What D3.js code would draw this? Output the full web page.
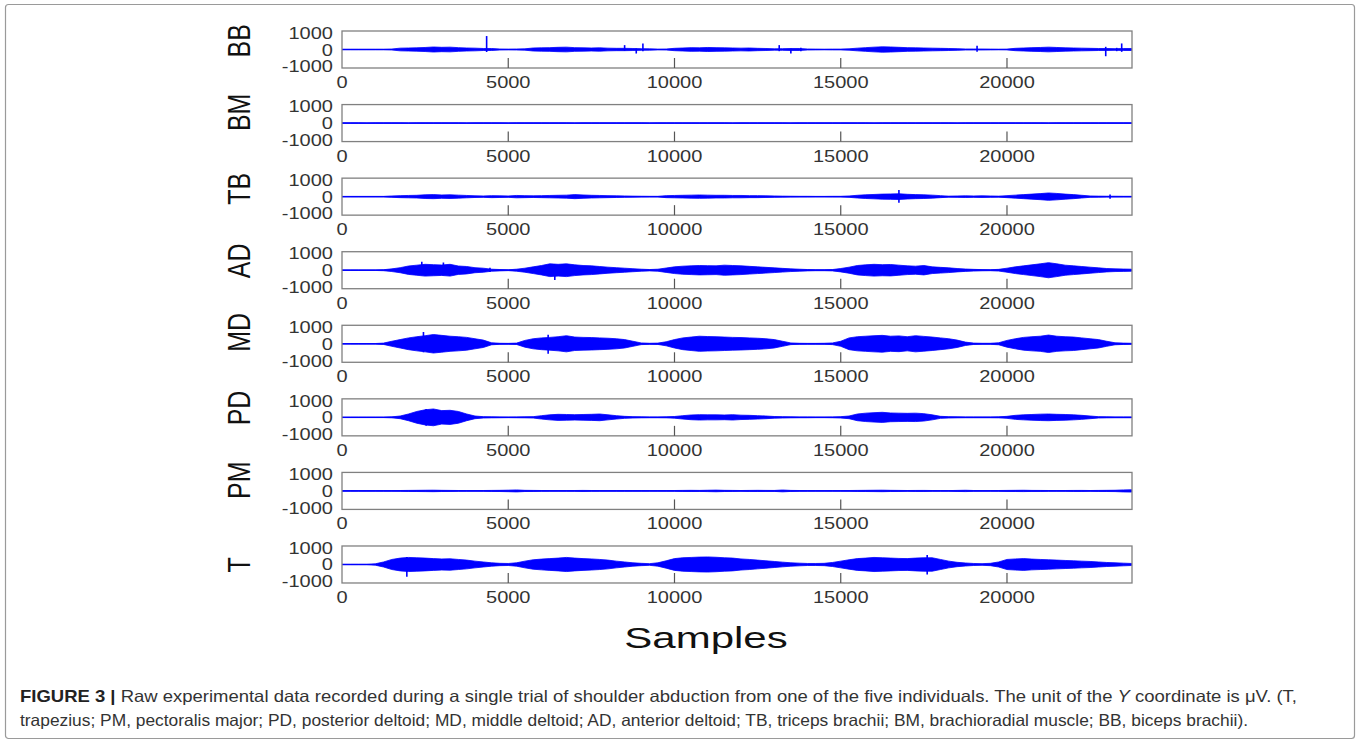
<!DOCTYPE html>
<html>
<head>
<meta charset="utf-8">
<script src="https://cdn.jsdelivr.net/npm/d3@7"></script>
<style>
  body { margin: 0; background: #fff; }
  text { font-family: "Liberation Sans", Arial, Helvetica, sans-serif; }
  text.caption { font-family: "Liberation Sans Narrow", "Liberation Sans", Arial, sans-serif; }
</style>
</head>
<body>
<div id="chart"></div>
<script>
// muscle channels, top to bottom
var channels = ["BB", "BM", "TB", "AD", "MD", "PD", "PM", "T"];
var binSize = 250;          // samples per envelope bin
var sampleMax = 23760;
var xTicks = [0, 5000, 10000, 15000, 20000];
var yTicks = [1000, 0, -1000];

// envelope (uV), one value per 250 samples
var bb = [20,20,20,20,20,20,30,80, 90,100,120,150,130,140,110,90, 80,60,60,30,25,30,40,90,
  100,110,130,140,110,100,90,100, 80,70,70,60,50,40,25,30, 70,90,110,100,120,110,100,90,
  80,90,70,60,40,50,60,60, 30,25,20,25,25,40,80,110, 140,160,150,130,110,100,90,80,
  70,60,50,30,30,30,25,20, 25,70,90,110,120,140,120,100, 90,80,70,60,60,50,60,60];
var bm = [12,14,12,10,13,12,14,12, 11,13,15,12,14,12,13,11, 12,14,13,12,11,13,12,14,
  13,12,14,12,11,13,12,14, 12,13,12,14,12,11,13,12, 14,12,13,12,14,13,12,11,
  13,12,14,12,13,12,11,13, 12,14,12,13,12,14,12,13, 11,12,14,12,13,12,14,12,
  13,12,11,13,14,12,13,12, 12,14,12,13,12,11,13,12, 14,12,13,12,14,12,13,12];
var tb = [15,15,15,15,15,15,40,60, 70,80,110,120,100,110,90,70, 50,40,60,50,40,70,60,50,
  60,70,80,90,120,100,80,70, 60,50,40,30,25,20,20,60, 70,80,90,100,90,80,80,70,
  70,60,60,50,40,30,25,20, 20,15,15,20,20,40,80,110, 130,150,160,170,140,120,110,90,
  60,30,40,50,40,50,40,30, 60,90,120,150,180,220,190,150, 120,80,40,30,25,25,20,20];
var ad = [15,15,15,15,15,30,80,150, 250,300,350,330,310,350,250,220, 150,120,60,40,25,60,120,200,
  280,380,350,380,320,280,260,220, 180,150,120,90,60,40,60,130, 200,240,260,280,270,260,300,280,
  260,230,200,170,140,110,80,60, 40,30,30,40,100,180,280,320, 350,330,340,300,260,240,280,200,
  170,140,100,70,50,35,30,50, 120,200,260,320,380,450,380,300, 260,220,180,140,100,80,70,60];
var md = [15,15,15,15,15,40,150,250, 350,420,480,550,500,450,420,380, 300,220,60,30,25,40,200,300,
  350,380,420,480,400,380,370,350, 330,300,250,150,50,30,40,120, 250,350,400,450,430,420,400,380,
  370,350,330,300,250,150,50,30, 25,25,30,50,150,350,420,450, 480,500,450,470,420,480,440,400,
  350,300,220,100,40,30,30,60, 200,300,380,420,450,520,450,420, 400,350,300,250,150,60,40,30];
var pd = [15,15,15,15,15,15,30,80, 200,350,450,500,400,420,350,200, 80,40,30,25,20,25,30,40,
  100,150,180,170,160,170,180,200, 150,100,60,40,30,25,25,30, 50,100,140,160,150,150,140,160,
  130,120,100,80,50,40,30,25, 25,20,20,25,40,80,200,250, 280,300,260,250,240,250,220,150,
  60,40,30,25,25,25,25,30, 60,120,150,170,190,200,180,170, 150,120,80,40,30,25,25,25];
var pm = [18,20,18,20,18,22,20,25, 30,35,40,45,35,30,25,22, 20,25,30,35,45,60,35,30,
  25,22,20,22,25,30,25,22, 20,22,25,22,20,18,20,22, 25,30,35,30,40,50,35,30,
  25,30,35,30,28,55,30,25, 22,20,18,20,22,25,30,35, 40,45,35,30,25,28,30,25,
  22,20,30,40,25,22,20,25, 30,35,40,30,28,25,22,25, 28,30,25,30,35,40,60,70];
var tr = [20,20,20,20,40,150,300,380, 420,400,380,350,330,340,300,260, 200,150,100,70,60,100,200,280,
  320,350,380,420,380,350,330,300, 260,200,150,100,70,50,100,220, 350,400,420,440,450,430,400,380,
  330,300,260,220,180,140,100,80, 60,60,70,120,200,280,350,380, 420,400,380,360,350,380,400,400,
  300,200,130,90,60,50,70,150, 300,330,350,320,300,280,260,240, 220,200,180,150,120,100,80,60];

// short transients: [sample, up (uV), down (uV)]
var bbSpikes = [[4350,800,150],[8500,260,80],[8850,60,240],[9050,360,100],[13150,260,100],
  [13500,60,240],[13800,100,100],[19100,220,140],[22970,160,400],[23300,100,100],[23450,360,140]];
var tbSpikes = [[16750,400,360],[23100,120,120]];
var adSpikes = [[2400,500,300],[3050,460,300],[4450,150,100],[6400,300,580]];
var mdSpikes = [[2450,700,500],[6200,530,600]];
var pdSpikes = [[2530,500,500]];
var trSpikes = [[1950,450,730],[17600,560,600]];

var captionBold = "FIGURE 3 |";
var captionLine1 = " Raw experimental data recorded during a single trial of shoulder abduction from one of the five individuals. The unit of the ";
var captionLine1b = " coordinate is \u03bcV. (T,";
var captionLine2 = "trapezius; PM, pectoralis major; PD, posterior deltoid; MD, middle deltoid; AD, anterior deltoid; TB, triceps brachii; BM, brachioradial muscle; BB, biceps brachii).";

var traces = [
  {env: bb, spikes: bbSpikes}, {env: bm, spikes: []}, {env: tb, spikes: tbSpikes},
  {env: ad, spikes: adSpikes}, {env: md, spikes: mdSpikes}, {env: pd, spikes: pdSpikes},
  {env: pm, spikes: []}, {env: tr, spikes: trSpikes}
];

var W = 1360, H = 744;
var plot = { left: 342, right: 1132, top: 31, step: 73.57, h: 37 };
var stretch = 1.25; // the figure glyphs are horizontally widened

var svg = d3.select("#chart").append("svg")
  .attr("width", W).attr("height", H);

// outer frame
svg.append("rect")
  .attr("x", 5.5).attr("y", 4.5).attr("width", 1349).attr("height", 734)
  .attr("rx", 3)
  .attr("fill", "none").attr("stroke", "#9a9a9a").attr("stroke-width", 1.2);

var x = d3.scaleLinear().domain([0, sampleMax]).range([plot.left, plot.right]);

channels.forEach(function(name, ci) {
  var top = plot.top + ci * plot.step;
  var y = d3.scaleLinear().domain([-1100, 1100]).range([top + plot.h, top]);
  var g = svg.append("g").attr("class", "panel");
  var data = traces[ci].env.map(function(v, i) { return { s: i * binSize, a: v }; });

  g.append("clipPath").attr("id", "clip" + ci)
    .append("rect").attr("x", plot.left).attr("y", top)
    .attr("width", plot.right - plot.left).attr("height", plot.h);

  var area = d3.area()
    .x(function(d) { return x(d.s); })
    .y0(function(d) { return y(-d.a); })
    .y1(function(d) { return y(d.a); });

  var trace = g.append("g").attr("clip-path", "url(#clip" + ci + ")");

  trace.append("path").datum(data)
    .attr("d", area)
    .attr("fill", "#0000ff")
    .attr("stroke", "#0000ff").attr("stroke-width", 0.8);

  trace.selectAll(".spike").data(traces[ci].spikes).enter().append("line")
    .attr("x1", function(d) { return x(d[0]); }).attr("x2", function(d) { return x(d[0]); })
    .attr("y1", function(d) { return y(d[1]); }).attr("y2", function(d) { return y(-d[2]); })
    .attr("stroke", "#0000ff").attr("stroke-width", 1.6);

  // zero line of the trace
  trace.append("path").datum([0, sampleMax])
    .attr("d", d3.line().x(function(d) { return x(d); }).y(y(0)))
    .attr("fill", "none")
    .attr("stroke", "#0000ff").attr("stroke-width", 1.2);

  // box
  g.append("rect")
    .attr("x", plot.left).attr("y", top)
    .attr("width", plot.right - plot.left).attr("height", plot.h)
    .attr("fill", "none").attr("stroke", "#808080").attr("stroke-width", 1.3);

  // inward x ticks on the bottom edge
  g.selectAll(".xt").data(xTicks.slice(1)).enter().append("line")
    .attr("x1", function(d) { return x(d); }).attr("x2", function(d) { return x(d); })
    .attr("y1", top + plot.h).attr("y2", top + plot.h - 10)
    .attr("stroke", "#555").attr("stroke-width", 1.2);

  g.selectAll(".xl").data(xTicks).enter().append("text")
    .attr("transform", function(d) {
      return "translate(" + x(d) + "," + (top + plot.h + 20) + ") scale(" + stretch + ",1)";
    })
    .attr("text-anchor", "middle")
    .attr("font-size", 16).attr("fill", "#333")
    .text(function(d) { return d; });

  g.selectAll(".yl").data(yTicks).enter().append("text")
    .attr("transform", function(d) {
      return "translate(" + (plot.left - 9) + "," + (y(d) + 6) + ") scale(" + stretch + ",1)";
    })
    .attr("text-anchor", "end")
    .attr("font-size", 16).attr("fill", "#333")
    .text(function(d) { return d; });

  // channel name
  g.append("text")
    .attr("transform", "translate(250," + (top + plot.h / 2 + 8) + ") scale(" + stretch + ",1) rotate(-90)")
    .attr("text-anchor", "start")
    .attr("font-size", 25).attr("fill", "#111")
    .text(name);
});

svg.append("text")
  .attr("transform", "translate(706,648) scale(1.4,1)")
  .attr("text-anchor", "middle")
  .attr("font-size", 30).attr("fill", "#111")
  .text("Samples");

var cap1 = svg.append("text").attr("class", "caption")
  .attr("x", 20).attr("y", 702)
  .attr("font-size", 16.5).attr("fill", "#333")
  .attr("textLength", 1277).attr("lengthAdjust", "spacingAndGlyphs");
cap1.append("tspan").attr("font-weight", "bold").attr("fill", "#222").text(captionBold);
cap1.append("tspan").text(captionLine1);
cap1.append("tspan").attr("font-style", "italic").text("Y");
cap1.append("tspan").text(captionLine1b);

svg.append("text").attr("class", "caption")
  .attr("x", 20).attr("y", 726)
  .attr("font-size", 16.5).attr("fill", "#333")
  .attr("textLength", 1228).attr("lengthAdjust", "spacingAndGlyphs")
  .text(captionLine2);
</script>
</body>
</html>
